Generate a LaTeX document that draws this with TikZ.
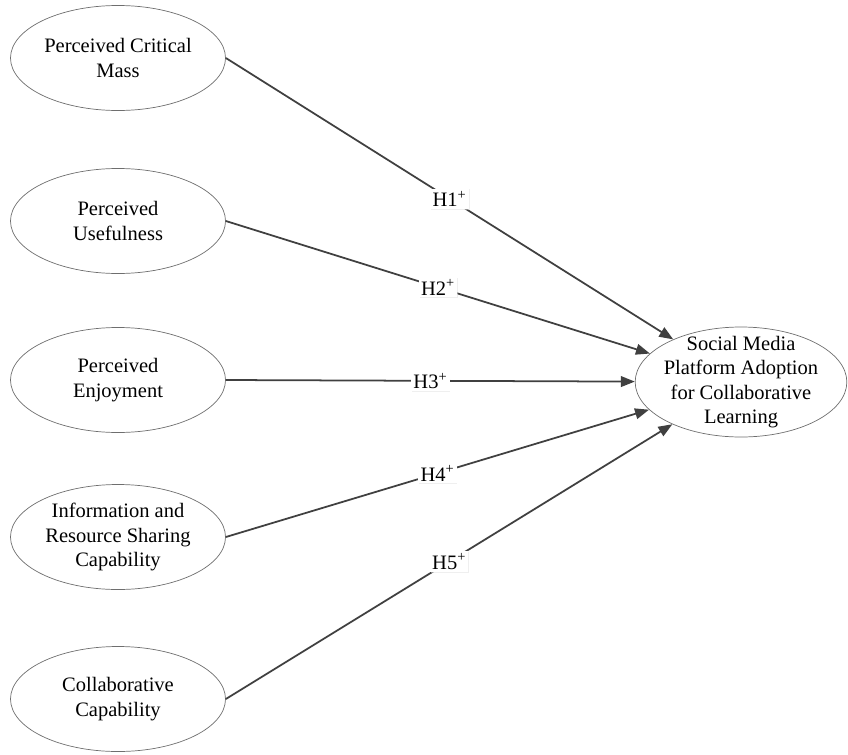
\documentclass[tikz,border=0pt]{standalone}
\usepackage{fontspec}
\setmainfont{Liberation Serif}
\usetikzlibrary{arrows.meta,shapes.geometric,shadows}
\definecolor{edgeline}{HTML}{404040}
\definecolor{rimline}{HTML}{6E6E6E}

\begin{document}
\begin{tikzpicture}[x=0.03cm,y=-0.03cm,
  construct/.style={ellipse,draw=rimline,line width=0.6pt,align=center,inner sep=-1cm,
    minimum width=6.45cm,minimum height=3.15cm,font=\fontsize{17.5}{21}\selectfont},
  outcome/.style={construct,minimum width=6.35cm,minimum height=3.3cm},
  arrow/.style={-{Triangle[length=4.2mm,width=3.2mm]},line width=1.5pt,draw=edgeline},
  hyp/.style={fill=white,inner sep=2pt,font=\fontsize{17.5}{20}\selectfont,
    drop shadow={shadow xshift=0.7pt,shadow yshift=-0.7pt,fill=black!12}}
]
\useasboundingbox (0,0) rectangle (848,754);
\node[construct] (pcm) at (118,58) {Perceived Critical\\Mass};
\node[construct] (pu) at (118,221) {Perceived\\Usefulness};
\node[construct] (pe) at (118,380) {Perceived\\Enjoyment};
\node[construct] (irs) at (118,537) {Information and\\Resource Sharing\\Capability};
\node[construct] (cc) at (118,699) {Collaborative\\Capability};
\node[outcome] (smp) at (741,382)
  {Social Media\\Platform Adoption\\for Collaborative\\Learning};
\draw[arrow] (pcm.east) -- node[hyp] {H1\textsuperscript{+}} (smp);
\draw[arrow] (pu.east) -- node[hyp] {H2\textsuperscript{+}} (smp);
\draw[arrow] (pe.east) -- node[hyp] {H3\textsuperscript{+}} (smp);
\draw[arrow] (irs.east) -- node[hyp] {H4\textsuperscript{+}} (smp);
\draw[arrow] (cc.east) -- node[hyp] {H5\textsuperscript{+}} (smp);
\end{tikzpicture}
\end{document}
